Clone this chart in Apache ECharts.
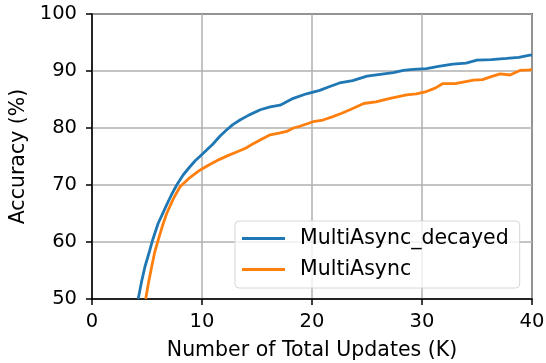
<!DOCTYPE html>
<html>
<head>
<meta charset="utf-8">
<script src="https://cdn.jsdelivr.net/npm/echarts@6/dist/echarts.min.js"></script>
<style>html,body{margin:0;padding:0;background:#fff}#c{width:546px;height:363px}</style>
</head>
<body>
<div id="c"></div>
<script>
var seriesNames = ['MultiAsync_decayed', 'MultiAsync'];
var xTicks = [0, 10, 20, 30, 40];
var yTicks = [50, 60, 70, 80, 90, 100];

var decayedX = [4.2,4.5,4.82,5.2,5.52,6.0,6.64,7.2,7.7,8.3,8.9,9.4,9.8,10.4,11.0,11.6,12.2,12.8,13.45,14.3,15.3,16.2,17.1,18.3,19.5,20.7,21.5,22.5,23.7,25.0,26.2,27.4,28.3,29.2,30.4,31.5,32.8,34.0,35.0,36.3,37.7,38.8,39.8,40];
var decayedY = [50,53,55.7,58.2,60.4,63.2,65.9,68.2,70.0,71.8,73.2,74.3,75.0,76.1,77.2,78.5,79.6,80.6,81.4,82.3,83.2,83.7,84.0,85.2,86.0,86.6,87.2,87.9,88.3,89.1,89.4,89.7,90.1,90.3,90.4,90.8,91.2,91.4,91.9,92.0,92.2,92.4,92.8,92.8];

var asyncX = [4.88,5.15,5.43,5.7,6.03,6.4,6.79,7.4,8.0,8.9,9.8,10.7,11.6,12.4,13.15,14.0,14.7,15.5,16.2,17.0,17.7,18.3,18.9,20.1,21.0,21.9,22.7,23.45,24.7,25.8,27.1,28.6,29.5,30.4,31.2,31.9,33.0,34.7,35.5,36.3,37.1,38.0,38.9,39.8,40];
var asyncY = [50,53,55.7,58.2,60.4,62.8,65.0,67.6,69.7,71.3,72.6,73.6,74.5,75.2,75.8,76.5,77.3,78.1,78.8,79.1,79.4,80.0,80.3,81.1,81.4,82.0,82.6,83.2,84.3,84.6,85.2,85.8,86.0,86.4,87.0,87.8,87.8,88.4,88.5,89.0,89.5,89.3,90.1,90.2,90.3];

function pairs(xs, ys){ return xs.map(function(x,i){ return [x, ys[i]]; }); }

var FONT = 'DejaVu Sans';
var chart = echarts.init(document.getElementById('c'), null, {renderer:'canvas'});
chart.setOption({
  animation: false,
  backgroundColor: '#fff',
  textStyle: {fontFamily: FONT},
  grid: {left: 92, top: 14, right: 14, bottom: 64, containLabel: false, outerBoundsMode: 'none',
         show: true, borderColor: '#000', borderWidth: 1.5, backgroundColor: 'transparent'},
  legend: {
    orient: 'vertical', left: 235, top: 221,
    data: seriesNames,
    icon: 'rect', itemWidth: 43, itemHeight: 3,
    itemGap: 10,
    padding: [7, 11, 8, 7],
    borderColor: '#d6d6d6', borderWidth: 1, borderRadius: 4,
    backgroundColor: 'rgba(255,255,255,0.8)',
    textStyle: {fontFamily: FONT, fontSize: 20.5, color: '#000', lineHeight: 21, padding: [0,0,0,10]}
  },
  xAxis: {
    type: 'value', min: xTicks[0], max: xTicks[xTicks.length-1], interval: 10,
    name: 'Number of Total Updates (K)', nameLocation: 'middle', nameGap: 41,
    nameTextStyle: {fontFamily: FONT, fontSize: 20.5, color: '#000'},
    axisLine: {show: true, onZero: false, lineStyle: {color: '#000', width: 1.5}},
    axisTick: {show: true, inside: false, length: 6, lineStyle: {color: '#000', width: 1.5}},
    axisLabel: {fontFamily: FONT, fontSize: 19.5, color: '#000', margin: 13},
    splitLine: {show: true, lineStyle: {color: '#b0b0b0', width: 1.5}}
  },
  yAxis: {
    type: 'value', min: yTicks[0], max: yTicks[yTicks.length-1], interval: 10,
    name: 'Accuracy (%)', nameLocation: 'middle', nameGap: 61,
    nameTextStyle: {fontFamily: FONT, fontSize: 20.5, color: '#000'},
    axisLine: {show: true, onZero: false, lineStyle: {color: '#000', width: 1.5}},
    axisTick: {show: true, inside: false, length: 6, lineStyle: {color: '#000', width: 1.5}},
    axisLabel: {fontFamily: FONT, fontSize: 19.5, color: '#000', margin: 15},
    splitLine: {show: true, lineStyle: {color: '#b0b0b0', width: 1.5}}
  },
  series: [
    {name: seriesNames[0], type: 'line', data: pairs(decayedX, decayedY), showSymbol: false, symbol: 'none',
     lineStyle: {color: '#1f77b4', width: 2.8}, itemStyle: {color: '#1f77b4'}, clip: true, z: 3},
    {name: seriesNames[1], type: 'line', data: pairs(asyncX, asyncY), showSymbol: false, symbol: 'none',
     lineStyle: {color: '#ff7f0e', width: 2.8}, itemStyle: {color: '#ff7f0e'}, clip: true, z: 3}
  ]
});
</script>
</body>
</html>
